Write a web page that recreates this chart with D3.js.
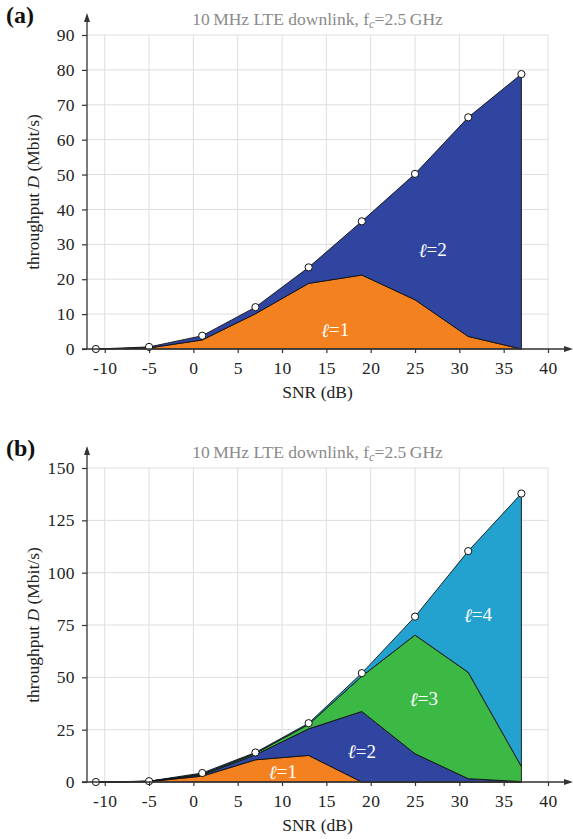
<!DOCTYPE html>
<html lang="en">
<head>
  <meta charset="UTF-8">
  <title>LTE throughput vs SNR</title>
  <script src="https://d3js.org/d3.v7.min.js"></script>
  <style>
    body { margin: 0; background: #fff; }
    svg text { font-family: "Liberation Serif", "Times New Roman", serif; }
    .grid line { stroke: #dedede; stroke-width: 1; }
    .tick text { font-size: 17.5px; fill: #222; letter-spacing: 0.4px; }
    .tick line { stroke: #333; stroke-width: 1.2; }
  </style>
</head>
<body>
<div id="chartContainer"></div>

<script>
  // SNR sample points (dB)
  const snr = [-11, -5, 1, 7, 13, 19, 25, 31, 37];
  const xTicks = [-10, -5, 0, 5, 10, 15, 20, 25, 30, 35, 40];

  // (a) throughput per layer count, Mbit/s
  const aL1 = [0, 0.3, 2.6, 10.1, 18.8, 21.2, 14.1, 3.6, 0];
  const aL2 = [0, 0.3, 1.2, 1.9, 4.6, 15.4, 36.1, 62.8, 78.8];
  const aYTicks = [0, 10, 20, 30, 40, 50, 60, 70, 80, 90];

  // (b)
  const bL1 = [0, 0.2, 2.8, 10.6, 12.7, 0, 0, 0, 0];
  const bL2 = [0, 0.1, 0.6, 2.4, 12.7, 33.7, 13.5, 1.6, 0.2];
  const bL3 = [0, 0.05, 0.4, 0.7, 2.1, 16.8, 56.7, 50.8, 7.2];
  const bL4 = [0, 0.05, 0.5, 0.4, 0.6, 1.5, 8.8, 57.9, 130.4];
  const bYTicks = [0, 25, 50, 75, 100, 125, 150];

  const layerColors = ["#f4811f", "#2f45a0", "#3cb944", "#23a2cf"];

  const width = 573, height = 839;
  const svg = d3.select("#chartContainer").append("svg")
    .attr("width", width).attr("height", height);

  function drawPanel(opts) {
    const { top, bottom, yMax, yTicks, layers, labelPos, tag } = opts;
    const left = 87, right = 548;
    const g = svg.append("g");

    const x = d3.scaleLinear().domain([-12, 40]).range([left, right]);
    const y = d3.scaleLinear().domain([0, yMax]).range([bottom, top]);

    // grid
    const grid = g.append("g").attr("class", "grid");
    grid.selectAll(".v").data(xTicks).enter().append("line")
      .attr("x1", d => x(d)).attr("x2", d => x(d))
      .attr("y1", top).attr("y2", bottom);
    grid.selectAll(".h").data(yTicks).enter().append("line")
      .attr("x1", left).attr("x2", right)
      .attr("y1", d => y(d)).attr("y2", d => y(d));

    // stacked areas
    const keys = layers.map((_, i) => "l" + (i + 1));
    const rows = snr.map((s, j) => {
      const r = { snr: s };
      layers.forEach((arr, i) => { r[keys[i]] = arr[j]; });
      return r;
    });
    const series = d3.stack().keys(keys)(rows);

    const area = d3.area()
      .x(d => x(d.data.snr))
      .y0(d => y(d[0]))
      .y1(d => y(d[1]));

    g.selectAll(".layer").data(series).enter().append("path")
      .attr("d", area)
      .attr("fill", (d, i) => layerColors[i])
      .attr("stroke", "#111")
      .attr("stroke-width", 0.9)
      .attr("stroke-linejoin", "round");

    // layer labels
    g.selectAll(".lbl").data(labelPos).enter().append("text")
      .attr("x", d => x(d[0]))
      .attr("y", d => y(d[1]))
      .attr("text-anchor", "middle")
      .attr("dominant-baseline", "central")
      .attr("fill", "#fff")
      .style("font-size", "19px")
      .html((d, i) => `<tspan font-style="italic">\u2113</tspan>=${i + 1}`);

    // total markers
    const totals = series[series.length - 1];
    g.selectAll(".pt").data(totals).enter().append("circle")
      .attr("cx", d => x(d.data.snr))
      .attr("cy", d => y(d[1]))
      .attr("r", 3.6)
      .attr("fill", "#fff")
      .attr("stroke", "#111")
      .attr("stroke-width", 1);

    // axes
    const xAxis = d3.axisBottom(x).tickValues(xTicks).tickSize(4).tickPadding(9)
      .tickFormat(d => String(d));
    g.append("g").attr("transform", `translate(0,${bottom})`).call(xAxis)
      .call(a => a.select(".domain").remove());

    const yAxis = d3.axisLeft(y).tickValues(yTicks).tickSize(5).tickPadding(7);
    g.append("g").attr("transform", `translate(${left},0)`).call(yAxis)
      .call(a => a.select(".domain").remove());

    const axisCol = "#333";
    g.append("line").attr("x1", left - 5).attr("x2", 566)
      .attr("y1", bottom).attr("y2", bottom)
      .attr("stroke", axisCol).attr("stroke-width", 1.3);
    g.append("path")
      .attr("d", `M573,${bottom} L564,${bottom - 3} L564,${bottom + 3} Z`)
      .attr("fill", axisCol);
    g.append("line").attr("x1", left).attr("x2", left)
      .attr("y1", bottom).attr("y2", top - 16)
      .attr("stroke", axisCol).attr("stroke-width", 1.3);
    g.append("path")
      .attr("d", `M${left},${top - 22} L${left - 3},${top - 13} L${left + 3},${top - 13} Z`)
      .attr("fill", axisCol);

    // title
    g.append("text")
      .attr("x", (left + right) / 2).attr("y", top - 10)
      .attr("text-anchor", "middle")
      .attr("fill", "#8a8a8a")
      .style("font-size", "17.5px")
      .html('10\u2009MHz LTE downlink, f<tspan font-style="italic" font-size="12.5px" dy="3">c</tspan><tspan dy="-3">=2.5\u2009GHz</tspan>');

    // panel tag
    g.append("text")
      .attr("x", 6).attr("y", top - 12)
      .attr("font-weight", "bold")
      .style("font-size", "24px")
      .attr("fill", "#111")
      .text(tag);

    // axis labels
    g.append("text")
      .attr("x", (left + right) / 2).attr("y", bottom + 49)
      .attr("text-anchor", "middle")
      .style("font-size", "17.5px")
      .attr("fill", "#222")
      .text("SNR (dB)");

    g.append("text")
      .attr("transform", `translate(39,${(top + bottom) / 2}) rotate(-90)`)
      .attr("text-anchor", "middle")
      .style("font-size", "17.5px")
      .attr("fill", "#222")
      .html('throughput <tspan font-style="italic">D</tspan> (Mbit/s)');
  }

  drawPanel({
    top: 35, bottom: 349, yMax: 90, yTicks: aYTicks,
    layers: [aL1, aL2],
    labelPos: [[16.0, 5.5], [27.0, 28.5]],
    tag: "(a)"
  });

  drawPanel({
    top: 468, bottom: 782, yMax: 150, yTicks: bYTicks,
    layers: [bL1, bL2, bL3, bL4],
    labelPos: [[10.1, 4.9], [19.0, 14.6], [26.0, 39.7], [32.1, 79.8]],
    tag: "(b)"
  });
</script>

</body>
</html>
